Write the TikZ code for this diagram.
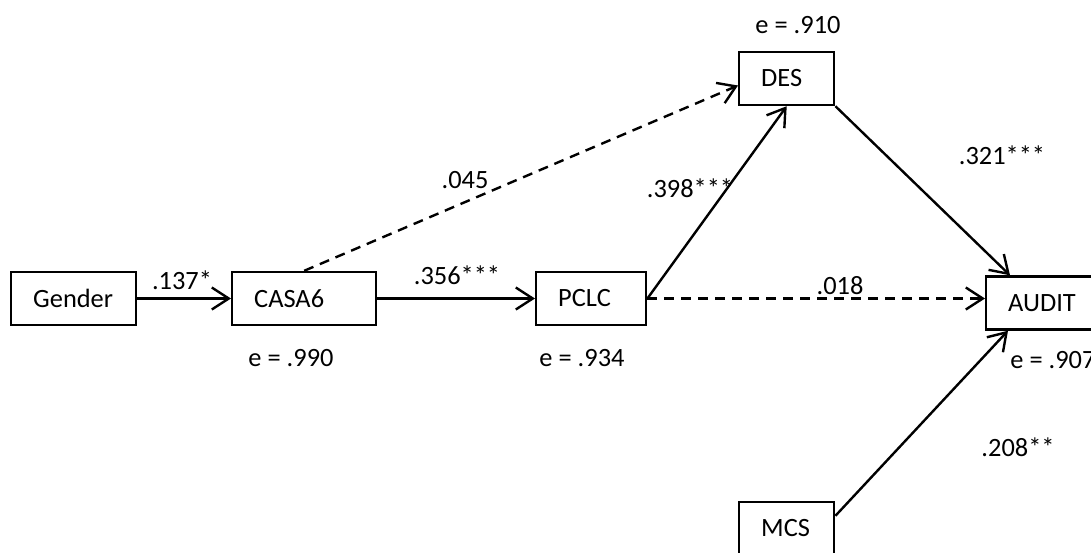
\documentclass[tikz,border=0pt]{standalone}
\usepackage{fontspec}
\setmainfont{Carlito}
\usetikzlibrary{
    arrows.meta,
    positioning
}

\begin{document}
\begin{tikzpicture}[x=0.5pt, y=-0.5pt, font=\fontsize{13.2}{15}\selectfont,
    var/.style={draw, line width=1.2pt, minimum height=26.5pt, inner xsep=11pt,
        text width=#1, align=left, anchor=west},
    lbl/.style={inner sep=0pt},
    arr/.style={line width=1.2pt, -{Straight Barb[length=8.5pt, width=11pt, line width=1.2pt]}},
    darr/.style={arr, dash pattern=on 5pt off 3.5pt}]
                        \useasboundingbox (0, 0) rectangle (1091, 552);

                        \node[var=40.5pt] (gender) at (10, 298.5) {Gender};
                        \node[var=50pt] (casa) at (231, 298.5) {CASA6};
                        \node[var=33pt] (pclc) at (535, 298.5) {PCLC};
                        \node[var=25.5pt] (des) at (738, 78.5) {DES};
                        \node[var=36pt] (audit) at (985, 303) {AUDIT};
                        \node[var=25.5pt] (mcs) at (738, 528.5) {MCS};

                        \node[lbl] (e_casa) at (291, 358) {e = .990};
                        \node[lbl] (e_pclc) at (582, 358) {e = .934};
                        \node[lbl] (e_des) at (798, 25) {e = .910};
                        \node[lbl, anchor=west] (e_audit) at (1010, 360) {e = .907};

                        \node[lbl] (w_gc) at (182, 280) {.137*};
                        \node[lbl] (w_cp) at (457, 275) {.356***};
                        \node[lbl] (w_cd) at (465, 180) {.045};
                        \node[lbl] (w_pd) at (690, 188) {.398***};
                        \node[lbl] (w_da) at (1002, 155) {.321***};
                        \node[lbl] (w_pa) at (840, 286) {.018};
                        \node[lbl] (w_ma) at (1018, 447) {.208**};

                        \draw
                        (gender) edge[arr] (casa)
                        (casa) edge[arr] (pclc)
                        (casa.north) edge[darr] ([yshift=-3.5pt]des.west)
                        (pclc.east) edge[arr] (des.south)
                        (des.south east) edge[arr] ([xshift=12.5pt]audit.north west)
                        (pclc.east) edge[darr] (pclc.east -| audit.west)
                        ([yshift=-7.5pt]mcs.north east) edge[arr] ([xshift=11.5pt]audit.south west);
                    \end{tikzpicture}
\end{document}
